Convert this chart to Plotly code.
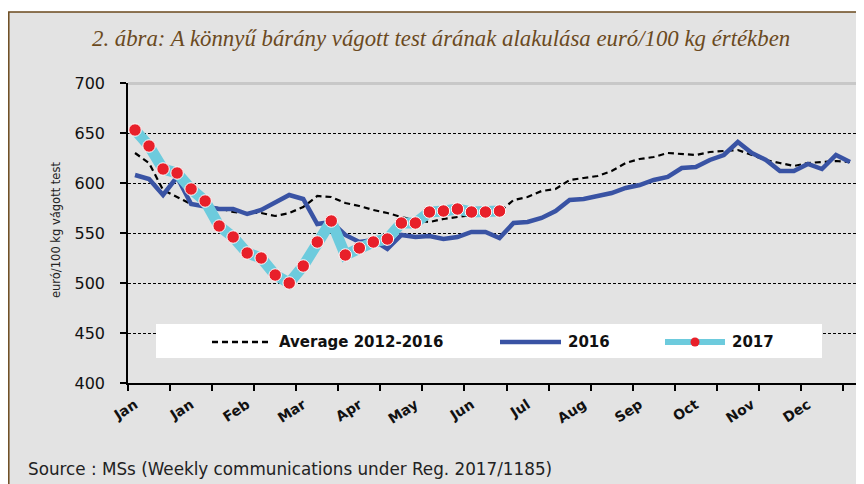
import plotly.graph_objects as go

# ---------------- data ----------------
weeks = list(range(1, 53))
avg_2012_2016 = [630, 620, 593, 586, 579, 576, 575, 571, 570, 570, 567, 570, 576, 587, 586, 580,
                 577, 573, 570, 566, 563, 561, 564, 566, 568, 570, 571, 583, 586, 592, 594, 603,
                 605, 607, 612, 620, 624, 626, 630, 629, 628, 631, 632, 633, 628, 623, 620, 617,
                 620, 621, 622, 621]
y2016 = [608, 604, 588, 606, 579, 576, 574, 574, 569, 573, 581, 588, 584, 559, 561, 548,
         541, 543, 534, 548, 546, 547, 544, 546, 551, 551, 545, 560, 561, 565, 572, 583,
         584, 587, 590, 595, 598, 603, 606, 615, 616, 623, 628, 641, 630, 623, 612, 612,
         619, 614, 628, 621]
y2017 = [653, 637, 614, 610, 594, 582, 557, 546, 530, 525, 508, 500, 517, 541, 562, 528,
         535, 541, 544, 560, 560, 571, 572, 574, 571, 571, 572]
month_labels = ["Jan", "Jan", "Feb", "Mar", "Apr", "May", "Jun", "Jul", "Aug", "Sep", "Oct", "Nov", "Dec"]
label_weeks = [1, 5, 9, 13, 17, 21, 25, 29, 33, 37, 41, 45, 49]
y_ticks = [400, 450, 500, 550, 600, 650, 700]

# ---------------- geometry (screen pixel -> paper) ----------------
OFF = 8                      # page body margin
W, H = 864 - OFF, 484 - OFF  # figure size so page fits the window
# plot area on screen: x 128..857, y 83..383
L = 128 - OFF
T = 83 - OFF
R = W - (857 - OFF)
B = H - (383 - OFF)
PW, PH = W - L - R, H - T - B


def px(sx):
    return (sx - OFF - L) / PW


def py(sy):
    return (H - B - (sy - OFF)) / PH


def xc(w):  # category centre for week number
    return w - 0.5


BROWN = "#6b4a1e"
BLUE = "#3953a4"
CYAN = "#6dcbdd"
RED = "#e8202a"
FONT = "DejaVu Sans"

fig = go.Figure()

fig.add_trace(go.Scatter(x=[xc(w) for w in weeks], y=avg_2012_2016, mode="lines",
                         line=dict(color="black", width=2.2, dash="6px,4px"),
                         name="Average 2012-2016", showlegend=False))
fig.add_trace(go.Scatter(x=[xc(w) for w in weeks], y=y2016, mode="lines",
                         line=dict(color=BLUE, width=4.5), name="2016", showlegend=False))
fig.add_trace(go.Scatter(x=[xc(w) for w in weeks[:len(y2017)]], y=y2017, mode="lines",
                         line=dict(color=CYAN, width=11), name="2017", showlegend=False))
fig.add_trace(go.Scatter(x=[xc(w) for w in weeks[:len(y2017)]], y=y2017, mode="markers",
                         marker=dict(color=RED, size=12.5, line=dict(color="white", width=1)),
                         showlegend=False))
# invisible trace to carry the month labels axis
fig.add_trace(go.Scatter(x=[xc(w) for w in label_weeks], y=[None] * len(label_weeks),
                         xaxis="x2", showlegend=False, hoverinfo="skip"))

shapes = []
# outer frame with grey fill
shapes.append(dict(type="rect", xref="paper", yref="paper", x0=px(8.8), x1=px(900), y0=py(600), y1=py(12),
                   fillcolor="#e3e3e3", line=dict(color=BROWN, width=1.5), layer="below"))
# plot border (top & right, grey)
shapes.append(dict(type="line", xref="paper", yref="paper", x0=0, x1=px(860), y0=py(83.5), y1=py(83.5),
                   line=dict(color="#c8c8c8", width=3), layer="above"))
shapes.append(dict(type="line", xref="paper", yref="paper", x0=px(858), x1=px(858), y0=0, y1=py(82),
                   line=dict(color="#c8c8c8", width=4), layer="above"))
# legend background
shapes.append(dict(type="rect", xref="paper", yref="paper", x0=px(156), x1=px(822), y0=py(358), y1=py(324),
                   fillcolor="white", line=dict(width=0), layer="above"))
# legend symbols
shapes.append(dict(type="line", xref="paper", yref="paper", x0=px(212), x1=px(272), y0=py(342), y1=py(342),
                   line=dict(color="black", width=2.5, dash="6px,4px"), layer="above"))
shapes.append(dict(type="line", xref="paper", yref="paper", x0=px(500), x1=px(561), y0=py(342), y1=py(342),
                   line=dict(color=BLUE, width=4.5), layer="above"))
shapes.append(dict(type="line", xref="paper", yref="paper", x0=px(665), x1=px(725), y0=py(342), y1=py(342),
                   line=dict(color=CYAN, width=6), layer="above"))
shapes.append(dict(type="circle", xref="paper", yref="paper", x0=px(690.5), x1=px(699.5), y0=py(346.5), y1=py(337.5),
                   fillcolor=RED, line=dict(width=0), layer="above"))

annotations = [
    dict(text="2. ábra: A könnyű bárány vágott test árának alakulása euró/100 kg értékben",
         xref="paper", yref="paper", x=px(441), y=py(38), showarrow=False, xanchor="center", yanchor="middle",
         font=dict(family="Liberation Serif", size=22.8, color=BROWN, style="italic")),
    dict(text="Source : MSs (Weekly communications under Reg. 2017/1185)",
         xref="paper", yref="paper", x=px(26), y=py(469), showarrow=False, xanchor="left", yanchor="middle",
         font=dict(family=FONT, size=16.8, color="#222222")),
    dict(text="euró/100 kg vágott test", xref="paper", yref="paper", x=px(56), y=py(230), textangle=-90,
         showarrow=False, xanchor="center", yanchor="middle", font=dict(family=FONT, size=11.5, color="#222222")),
    dict(text="<b>Average 2012-2016</b>", xref="paper", yref="paper", x=px(277), y=py(342), showarrow=False,
         xanchor="left", yanchor="middle", font=dict(family=FONT, size=15, color="#111111")),
    dict(text="<b>2016</b>", xref="paper", yref="paper", x=px(566), y=py(342), showarrow=False,
         xanchor="left", yanchor="middle", font=dict(family=FONT, size=15, color="#111111")),
    dict(text="<b>2017</b>", xref="paper", yref="paper", x=px(730), y=py(342), showarrow=False,
         xanchor="left", yanchor="middle", font=dict(family=FONT, size=15, color="#111111")),
]

fig.update_layout(
    width=W, height=H,
    margin=dict(l=L, r=R, t=T, b=B, pad=0),
    paper_bgcolor="white", plot_bgcolor="white",
    showlegend=False,
    shapes=shapes, annotations=annotations,
    xaxis=dict(range=[0, 52], tickvals=list(range(0, 52, 3)), showticklabels=False,
               ticks="outside", ticklen=6, tickwidth=1.5, tickcolor="black",
               showline=True, linecolor="black", linewidth=1.5, showgrid=False, zeroline=False),
    xaxis2=dict(range=[0, 52], overlaying="x", anchor="y", side="bottom",
                tickvals=[xc(w) for w in label_weeks], ticktext=month_labels, tickangle=-33,
                ticks="", showline=False, showgrid=False, zeroline=False, ticklabelstandoff=10,
                tickfont=dict(family=FONT, size=14, color="#111111", weight="bold")),
    yaxis=dict(range=[400, 700], tickvals=y_ticks, ticks="outside", ticklen=6, tickwidth=1.5, tickcolor="black",
               showline=True, linecolor="black", linewidth=1.5, zeroline=False,
               showgrid=True, gridcolor="black", gridwidth=1, griddash="3px,2px", ticklabelstandoff=12,
               tickfont=dict(family=FONT, size=16, color="#111111")),
)

fig.write_html("out.html")
